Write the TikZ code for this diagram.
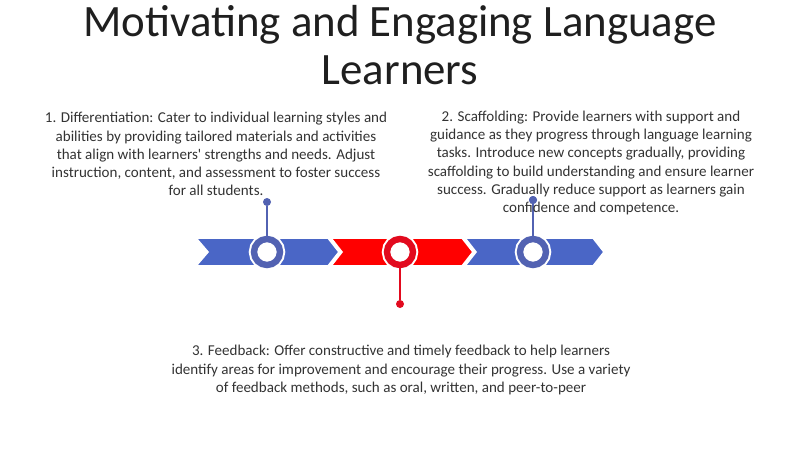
\documentclass[tikz,border=0pt]{standalone}
\usepackage{fontspec}
\setmainfont{Carlito}
\definecolor{bandblue}{HTML}{4A66C6}
\definecolor{ringblue}{HTML}{5262B2}
\definecolor{bandred}{HTML}{FF0000}
\definecolor{ringred}{HTML}{E20A1E}
\definecolor{bodygray}{HTML}{333333}
\tikzset{
  segment/.style={fill=#1, draw=white, line width=0.04cm},
  ring/.style={circle, inner sep=0pt, minimum size=0.65cm, fill=white,
    draw=#1, line width=0.16cm,
    preaction={draw=white, line width=0.26cm}},
  knob/.style={circle, inner sep=0pt, minimum size=0.2cm, fill=#1},
  stem/.style={draw=#1, line width=0.04cm},
  blurb/.style={align=center, text=bodygray,
    font=\fontsize{10.7}{12.9}\selectfont}
}
\begin{document}
\begin{tikzpicture}[x=0.025cm, y=-0.025cm]
  \useasboundingbox (0,0) rectangle (800,449);
  {\fill[white] (0,0) rectangle (800,449);}

  % Title
  \node[align=center, text=black!88, font=\fontsize{31.9}{34.2}\selectfont]
    (title) at (400,45) {Motivating and Engaging Language\\Learners};

  % Band of chevrons
  \draw[segment=bandblue] (196,238) -- (328,238) -- (339,252) -- (328,266)
    -- (196,266) -- (208,252) -- cycle;
  \draw[segment=bandred] (331,238) -- (462,238) -- (473,252) -- (462,266)
    -- (331,266) -- (342,252) -- cycle;
  \draw[segment=bandblue] (465,238) -- (593,238) -- (604,252) -- (593,266)
    -- (465,266) -- (476,252) -- cycle;

  % Knobs and stems
  \node[knob=ringblue] (k1) at (267,202) {};
  \node[knob=ringred] (k2) at (400,304) {};
  \node[knob=ringblue] (k3) at (533,200) {};

  \node[ring=ringblue] (r1) at (267,252) {};
  \node[ring=ringred] (r2) at (400,252) {};
  \node[ring=ringblue] (r3) at (533,252) {};

  \draw[stem=ringblue] (k1) -- (r1);
  \draw[stem=ringred] (k2) -- (r2);
  \draw[stem=ringblue] (k3) -- (r3);

  % Texts
  \node[blurb] (t1) at (216,154) {1. Differentiation: Cater to individual learning styles and\\
    abilities by providing tailored materials and activities\\
    that align with learners\textquotesingle{} strengths and needs. Adjust\\
    instruction, content, and assessment to foster success\\
    for all students.};
  \node[blurb] (t2) at (591,163) {2. Scaffolding: Provide learners with support and\\
    guidance as they progress through language learning\\
    tasks. Introduce new concepts gradually, providing\\
    scaffolding to build understanding and ensure learner\\
    success. Gradually reduce support as learners gain\\
    confidence and competence.};
  \node[blurb] (t3) at (401,370) {3. Feedback: Offer constructive and timely feedback to help learners\\
    identify areas for improvement and encourage their progress. Use a variety\\
    of feedback methods, such as oral, written, and peer-to-peer};
  \node[knob=ringblue] at (k3) {};
\end{tikzpicture}
\end{document}
